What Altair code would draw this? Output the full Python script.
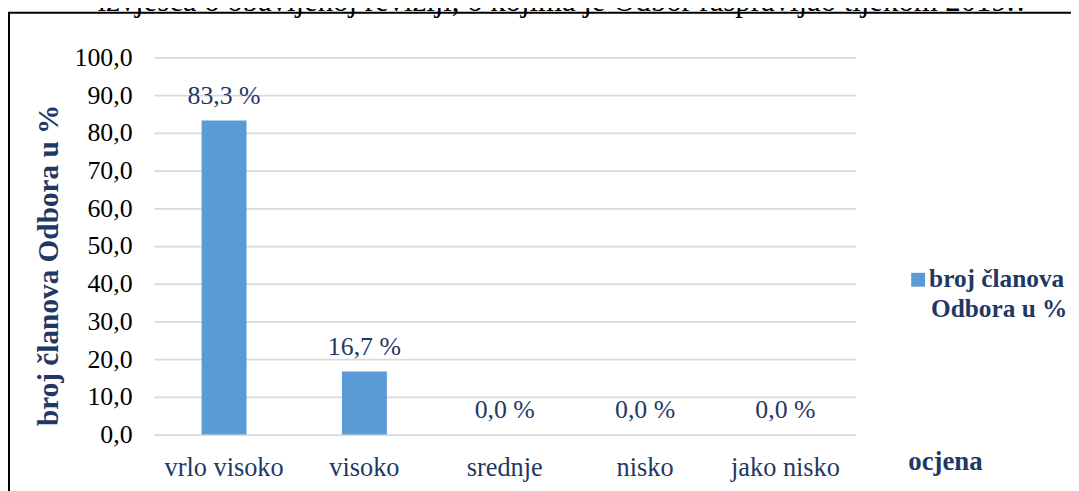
import altair as alt
import pandas as pd

categories = ["vrlo visoko", "visoko", "srednje", "nisko", "jako nisko"]
values = [83.3, 16.7, 0.0, 0.0, 0.0]
labels = ["83,3 %", "16,7 %", "0,0 %", "0,0 %", "0,0 %"]
y_ticks = [0, 10, 20, 30, 40, 50, 60, 70, 80, 90, 100]
title_text = "izvješća o obavljenoj reviziji, o kojima je Odbor raspravljao tijekom 2019.?"
series_name = "broj članova Odbora u %"
legend_lines = ["broj članova", "Odbora u %"]
x_title = "ocjena"

FONT = "Liberation Serif"
NAVY = "#1F3864"
BAR = "#5B9BD5"
GRID = "#D9D9D9"

df = pd.DataFrame({"ocjena": categories, "value": values, "label": labels})

xenc = alt.X("ocjena:N", sort=categories,
             scale=alt.Scale(paddingInner=0.68, paddingOuter=0.34),
             axis=alt.Axis(title=x_title, labelAngle=0, labelFont=FONT, labelFontSize=26.5,
                           labelColor=NAVY, labelBaseline="alphabetic", labelPadding=41,
                           ticks=False, tickSize=0, domain=False, grid=False,
                           titleFont=FONT, titleFontSize=27, titleFontWeight="bold",
                           titleColor=NAVY, titleX=797, titleY=35, titleAlign="center",
                           titleBaseline="alphabetic", titleAnchor="start"))
yenc = alt.Y("value:Q", scale=alt.Scale(domain=[0, 100]),
             axis=alt.Axis(title=series_name, values=y_ticks,
                           labelExpr="replace(format(datum.value, '.1f'), '.', ',')",
                           labelFont=FONT, labelFontSize=26, labelColor="black",
                           labelPadding=22, labelOverlap=False, ticks=False, domain=False,
                           grid=True, gridColor=GRID, gridWidth=1.8,
                           titleFont=FONT, titleFontSize=29.5, titleFontWeight="bold",
                           titleColor=NAVY, titleAngle=-90, titleX=-106, titleY=209,
                           titleAlign="center", titleBaseline="middle", titleAnchor="start"))

base = alt.Chart(df).encode(x=xenc, y=yenc)
bars = base.mark_bar(color=BAR)
bar_labels = base.mark_text(font=FONT, fontSize=26, color=NAVY,
                            baseline="alphabetic", dy=-17).encode(text="label:N")

title_df = pd.DataFrame({"t": [title_text]})
title = alt.Chart(title_df).mark_text(font=FONT, fontSize=31, color="black",
                                      align="center", baseline="alphabetic").encode(
    x=alt.value(412), y=alt.value(-47), text="t:N")

border = alt.Chart(title_df).mark_rect(fillOpacity=0, stroke="black", strokeWidth=2).encode(
    x=alt.value(-146), x2=alt.value(1000), y=alt.value(-45), y2=alt.value(1000))

leg_sq = alt.Chart(title_df).mark_rect(color=BAR).encode(
    x=alt.value(763), x2=alt.value(777), y=alt.value(217), y2=alt.value(231))

leg_df = pd.DataFrame({"line": legend_lines})
leg_text0 = alt.Chart(leg_df.iloc[[0]]).mark_text(font=FONT, fontSize=25.5, fontWeight="bold", color=NAVY,
                                                  align="left", baseline="alphabetic").encode(
    x=alt.value(781), y=alt.value(231), text="line:N")
leg_text1 = alt.Chart(leg_df.iloc[[1]]).mark_text(font=FONT, fontSize=25.5, fontWeight="bold", color=NAVY,
                                                  align="left", baseline="alphabetic").encode(
    x=alt.value(783), y=alt.value(262), text="line:N")

chart = alt.layer(bars, bar_labels, title, border, leg_sq, leg_text0, leg_text1).properties(
    width=707, height=380,
    autosize=alt.AutoSizeParams(type="none"),
    padding={"left": 147, "top": 48, "right": 217, "bottom": 55},
).configure(background="white").configure_view(stroke=None)

chart.save("out.html", embed_options={"renderer": "svg", "actions": False})
